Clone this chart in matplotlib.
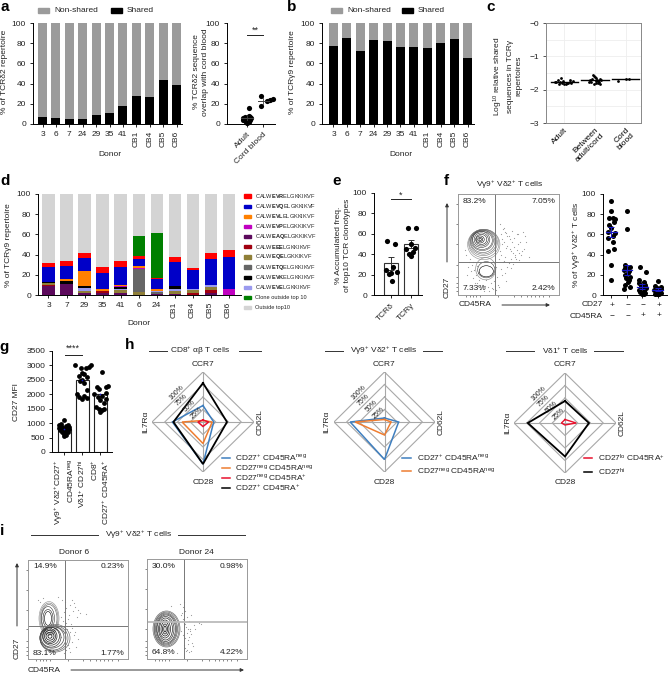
import numpy as np
import matplotlib
matplotlib.use('Agg')
import matplotlib.pyplot as plt
from matplotlib.patches import Ellipse, FancyArrowPatch

plt.rcParams['font.family'] = ['Liberation Sans', 'DejaVu Sans']
plt.rcParams['mathtext.fontset'] = 'custom'
plt.rcParams['mathtext.rm'] = 'Liberation Sans'
plt.rcParams['mathtext.it'] = 'Liberation Sans:italic'
plt.rcParams['mathtext.bf'] = 'Liberation Sans:bold'
plt.rcParams['mathtext.default'] = 'regular'
plt.rcParams['font.size'] = 6
plt.rcParams['axes.linewidth'] = 0.7
plt.rcParams['xtick.major.width'] = 0.7
plt.rcParams['ytick.major.width'] = 0.7
plt.rcParams['xtick.major.size'] = 2.5
plt.rcParams['ytick.major.size'] = 2.5
plt.rcParams['xtick.major.pad'] = 2.5
plt.rcParams['ytick.major.pad'] = 2.5

W, H = 668, 674
TXT = '#222222'
GREY = '#9b9b9b'

# panel a
donors_a = ['3', '6', '7', '24', '29', '35', '41', 'CB1', 'CB4', 'CB5', 'CB6']
shared_a = [7, 6, 4.5, 4.5, 8.5, 10.5, 18, 27.5, 27, 43.5, 39]
overlap_adult = [16, 8, 7, 6.5, 6, 5.5, 5, 4.5, 4, 3.5, 3, 2.5, 2, 1.5, 1]
overlap_adult_x = [0.12, 0.1, -0.12, 0.16, -0.22, 0.22, -0.05, 0.08, -0.25, 0.2, -0.08, 0.0, 0.12, -0.03, 0.03]
overlap_cord = [28, 18, 23, 24, 25]
overlap_cord_x = [-0.12, -0.12, 0.2, 0.42, 0.55]

# panel b
shared_b = [77, 85, 72, 83, 82, 76.5, 76, 75.5, 80, 84, 65]

# panel c
c_labels = ['Adult', 'Between\nadult/cord', 'Cord\nblood']
c_means = [-1.78, -1.72, -1.69]
c_adult = [-1.65, -1.72, -1.74, -1.76, -1.78, -1.8, -1.82, -1.84, -1.79, -1.77, -1.81, -1.83, -1.75, -1.72, -1.8, -1.78]
c_adult_x = [-0.12, -0.22, -0.05, -0.3, -0.15, -0.09, -0.01, 0.05, 0.12, 0.17, 0.22, -0.18, 0.28, 0.19, 0.08, -0.26]
c_between = [-1.55, -1.6, -1.62, -1.66, -1.68, -1.7, -1.72, -1.74, -1.76, -1.78, -1.8, -1.82, -1.84, -1.7, -1.67, -1.76, -1.8, -1.74]
c_between_x = [-0.08, -0.04, 0.0, 0.03, -0.1, 0.07, -0.15, 0.1, -0.2, 0.14, 0.04, -0.03, 0.16, 0.2, 0.16, -0.12, 0.09, 0.02]
c_cord = [-1.73, -1.67, -1.69]
c_cord_x = [-0.25, 0.12, 0.0]

# panel d
donors_d = ['3', '7', '29', '35', '41', '6', '24', 'CB1', 'CB4', 'CB5', 'CB6']
clone_colors = ['#5c0a5c', '#a00010', '#8f7f38', '#666666', '#9a9aee', '#000000', '#c000c0', '#ff8000', '#0000c8', '#ff0000', '#008000', '#d4d4d4']
eaq = [9, 10.5, 2, 1.5, 2, 0, 1, 1, 0, 2, 0]
eee = [1, 0, 0, 2, 0, 0, 0, 0, 1.5, 2.5, 0]
eqe = [2, 0.5, 2, 0, 3, 3, 0, 3, 3, 3, 0]
etq = [0, 0, 0, 0, 0, 23, 2, 0, 0, 0, 0]
eve = [0, 0, 3, 0, 1, 0, 1, 2, 1, 2, 0]
evk = [1, 3, 2, 0, 1.5, 0, 0, 3, 0, 0, 0]
evp = [0, 0, 0, 0, 1.5, 0.5, 0, 0, 0, 0, 6]
evl = [0, 1.5, 15, 2, 1, 2, 2, 0, 0, 0, 0]
evq = [15, 13, 13, 16.5, 17.5, 7, 9.5, 23.5, 19, 26, 31.5]
evr = [3.5, 5, 4.5, 6, 6, 3.5, 1.5, 5, 2.5, 6, 7.5]
clone_green = [0, 0, 0, 0, 0, 19, 44.5, 0, 0, 0, 0]
legend_d = ['CALW$\\mathbf{EVR}$ELGKKIKVF', 'CALW$\\mathbf{EVQ}$ELGKKIKVF', 'CALW$\\mathbf{EVL}$ELGKKIKVF',
            'CALW$\\mathbf{EVP}$ELGKKIKVF', 'CALW$\\mathbf{EAQ}$ELGKKIKVF', 'CALW$\\mathbf{EEE}$LGKKIKVF',
            'CALW$\\mathbf{EQE}$LGKKIKVF', 'CALW$\\mathbf{ETQ}$ELGKKIKVF', 'CALW$\\mathbf{EVK}$ELGKKIKVF',
            'CALW$\\mathbf{EVE}$LGKKIKVF', 'Clone outside top 10', 'Outside top10']
legend_d_colors = ['#ff0000', '#0000c8', '#ff8000', '#c000c0', '#5c0a5c', '#a00010', '#8f7f38', '#666666', '#000000', '#9a9aee', '#008000', '#d4d4d4']

# panel e
tcr_d = [53, 50, 27, 25, 23, 22, 21, 14]
tcr_d_x = [-0.2, 0.2, 0.1, -0.25, 0.28, 0.0, -0.1, 0.05]
tcr_g = [66, 66, 50, 46, 45, 42, 40, 38]
tcr_g_x = [-0.15, 0.25, 0.0, 0.2, -0.25, 0.1, -0.1, 0.0]
e_means = [31, 50]
e_err = [6, 4]

# panel f
f_q_text = ['83.2%', '7.05%', '7.33%', '2.42%']
f_c1 = [93, 83, 76, 76, 75, 72, 69, 66, 62, 61, 58, 56, 52, 46, 44, 30, 15]
f_c1_x = [0, 0, -0.15, 0.1, 0.2, 0.15, -0.15, 0.0, -0.25, 0.2, 0.1, -0.2, 0.12, 0.15, -0.2, -0.02, 0.0]
f_c2 = [83, 65, 30, 28, 27, 26, 25, 24, 22, 20, 18, 17, 15, 13, 10, 8, 6]
f_c2_x = [0, 0, -0.15, 0.2, -0.1, 0.1, -0.2, 0.15, 0.05, -0.15, 0.2, -0.05, 0.12, 0.05, -0.1, 0.2, -0.2]
f_c3 = [28, 23, 15, 13, 12, 10, 9, 8, 7, 5, 4, 3, 2, 1, 1]
f_c3_x = [-0.15, 0.25, -0.2, 0.1, -0.2, 0.2, -0.1, 0.05, 0.25, -0.2, 0.1, -0.15, 0.2, -0.05, 0.08]
f_c4 = [14, 9, 8, 7, 6, 5, 4, 3, 2, 1, 1, 0.5]
f_c4_x = [0, -0.2, 0.2, -0.05, 0.22, -0.22, 0.1, -0.1, 0.2, -0.2, 0.05, -0.05]
f_means = [62, 25, 8, 5]
f_err = [5, 5, 2.5, 1.5]
f_rows = [['+', '−', '−', '+'], ['−', '−', '+', '+']]

# flow contours, in percent of the plot width and height
f_ring_x = [25.5, 25.5, 25, 25, 24.5, 24, 24, 23, 23, 23, 22, 22, 22]
f_ring_y = [50, 51, 52, 52.5, 53, 54, 54, 55, 55, 55, 55, 55, 55]
f_ring_rx = [16, 15, 14, 13, 12, 11, 10, 8.5, 7, 5.5, 4, 2.5, 1.2]
f_ring_ry = [15, 14, 13, 12, 11, 10, 9, 8, 6.5, 5, 3.5, 2, 1]
f_low_x = [27.5, 28, 28]
f_low_y = [26, 25, 23.5]
f_low_rx = [10, 8.5, 7]
f_low_ry = [11, 8, 5.5]
f_dots_x = [42, 45, 47, 49, 51, 53, 55, 58, 60, 62, 44, 48, 52, 56, 41, 46, 50, 54, 57, 61, 65, 38, 43, 47, 52,
            14, 16, 18, 21, 24, 30, 33, 36, 39, 12, 17, 23, 28, 35, 40, 44, 48, 70, 66, 59,
            43, 44, 46, 46, 48, 49, 50, 51, 53, 54, 55, 56, 58, 59, 60, 63, 64, 67, 42, 43, 45, 47, 49, 52,
            10, 13, 15, 19, 20, 22, 26, 27, 31, 34, 37, 38, 41, 15, 19, 11, 9, 8, 7]
f_dots_y = [70, 65, 62, 58, 55, 52, 48, 45, 42, 40, 50, 47, 44, 40, 36, 34, 32, 31, 36, 52, 46, 28, 26, 22, 27,
            30, 25, 20, 15, 10, 8, 12, 14, 18, 36, 12, 6, 15, 6, 10, 20, 14, 38, 58, 60,
            60, 55, 66, 52, 61, 49, 58, 46, 63, 42, 56, 38, 60, 50, 35, 44, 62, 52, 44, 40, 33, 38, 28, 36,
            28, 24, 33, 29, 22, 6, 4, 9, 4, 7, 9, 5, 8, 17, 12, 33, 20, 40, 45]

i1_ring_x = [21, 21, 21, 20, 20, 20]
i1_ring_y = [41, 41, 41, 41, 41, 41]
i1_ring_rx = [10, 9, 8, 6.5, 5, 3.5]
i1_ring_ry = [17, 15.5, 14, 12, 9, 7]
i1_low_x = [27, 26, 25, 24, 23, 23, 22, 22, 22, 22]
i1_low_y = [21, 21, 21, 22, 22, 23, 23, 23, 23, 23]
i1_low_rx = [15, 14, 13, 12, 10, 8.5, 7, 5.5, 4, 2]
i1_low_ry = [14, 13, 12, 11, 10, 9, 7.5, 6, 4, 2]
i1_dots_x = [38, 42, 44, 46, 47, 50, 36, 41, 45, 52, 58, 49, 43, 39, 35, 33, 46, 50, 44, 40, 48, 38, 13, 17, 36, 42,
             34, 37, 40, 33, 35, 38, 44, 47, 12, 10, 15, 30, 41, 42]
i1_dots_y = [52, 55, 60, 57, 53, 50, 47, 44, 48, 46, 45, 42, 35, 30, 28, 22, 24, 20, 17, 14, 12, 9, 8, 5, 6, 27,
             60, 58, 40, 42, 38, 36, 31, 27, 58, 60, 62, 63, 11, 7]
i1_text = ['14.9%', '0.23%', '83.1%', '1.77%']

i2_ring_x = [19.5, 19.5, 19, 19, 19, 18.5, 18.5, 18, 18, 18, 18]
i2_ring_y = [30, 30, 30, 30, 30, 30, 30, 30, 30, 30, 30]
i2_ring_rx = [13.5, 12.5, 11.5, 10.5, 9.5, 8.5, 7, 5.5, 4, 2.5, 1.2]
i2_ring_ry = [18, 17, 16, 15, 14, 12.5, 11, 9, 7, 5, 3]
i2_dots_x = [36, 38, 40, 42, 37, 39, 41, 43, 44, 36, 38, 41, 45, 46, 38, 40, 42, 47, 52, 54, 35, 33, 37, 44, 30, 24,
             34, 36, 38, 40, 42, 34, 37, 41, 43, 39, 44, 48]
i2_dots_y = [52, 48, 42, 38, 36, 32, 30, 28, 25, 24, 21, 19, 16, 13, 11, 9, 7, 34, 36, 35, 46, 55, 57, 44, 6, 53,
             44, 40, 35, 26, 22, 28, 14, 15, 30, 8, 8, 30]
i2_text = ['30.0%', '0.98%', '64.8%', '4.22%']

# panel g
g_1 = [1100, 980, 950, 920, 900, 880, 860, 840, 820, 800, 780, 760, 740, 720, 700, 680, 650, 620, 580, 550]
g_1_x = [0, -0.2, 0.2, -0.3, 0.1, 0.28, -0.12, -0.28, 0.2, 0.0, 0.25, -0.22, 0.1, -0.1, 0.18, -0.15, 0.05, -0.05, 0.1, 0.0]
g_2 = [3000, 3000, 2950, 2900, 2900, 2750, 2700, 2650, 2600, 2500, 2450, 2400, 2150, 2000, 1950, 1900, 1880, 1850]
g_2_x = [-0.4, 0.48, 0.34, -0.1, 0.22, -0.05, 0.1, -0.2, 0.25, 0.0, -0.12, 0.1, 0.26, -0.3, 0.1, -0.2, 0.28, 0.0]
g_3 = [2780, 2300, 2250, 2250, 2200, 2050, 2000, 1950, 1900, 1850, 1800, 1700, 1550, 1500, 1480, 1450, 1400]
g_3_x = [0.1, 0.42, -0.2, 0.3, -0.1, 0.28, -0.35, 0.1, -0.15, 0.3, 0.0, 0.18, -0.25, 0.2, -0.1, 0.1, 0.0]
g_means = [790, 2480, 2000]
g_labels = ['Vγ9$^{+}$ Vδ2$^{+}$CD27$^{+}$\nCD45RA$^{neg}$', 'Vδ1$^{+}$ CD27$^{hi}$', 'CD8$^{+}$\nCD27$^{+}$ CD45RA$^{+}$']

# panel h, values run CCR7, CD62L, CD28, IL7Ra
h_axes = ['CCR7', 'CD62L', 'CD28', 'IL7Rα']
h1_blue = [33, 21, 84, 60]
h1_orange = [3, 18, 43, 41]
h1_red = [4, 11, 9, 10]
h1_black = [78, 47, 84, 58]
h2_blue = [8, 28, 75, 68]
h2_orange = [5, 13, 26, 58]
h3_red = [7, 22, 4, 7]
h3_black = [44, 47, 67, 73]
rings = [25, 50, 75, 100]
H_BLUE = '#3f7fbf'
H_ORANGE = '#ee7d31'
H_RED = '#e8112d'


def axpx(x0, y0, x1, y1):
    return fig.add_axes([x0 / W, 1 - y1 / H, (x1 - x0) / W, (y1 - y0) / H])


def txt(x, y, s, **kw):
    kw.setdefault('ha', 'center')
    kw.setdefault('va', 'center')
    kw.setdefault('color', TXT)
    return fig.text(x / W, 1 - y / H, s, **kw)


def line(x0, y0, x1, y1, color='#333333', lw=0.7):
    fig.add_artist(plt.Line2D([x0 / W, x1 / W], [1 - y0 / H, 1 - y1 / H], color=color, lw=lw))


def arrow(x0, y0, x1, y1):
    fig.add_artist(FancyArrowPatch((x0 / W, 1 - y0 / H), (x1 / W, 1 - y1 / H), transform=fig.transFigure,
                                   arrowstyle='-|>', mutation_scale=5, lw=0.7, color='#333333',
                                   shrinkA=0, shrinkB=0))


def clean(ax):
    ax.spines['top'].set_visible(False)
    ax.spines['right'].set_visible(False)
    ax.tick_params(colors=TXT)


def dots(ax, x0, xs, ys, s=14, color='black'):
    ax.scatter(x0 + np.array(xs), ys, s=s, color=color, linewidths=0, zorder=3, clip_on=False)


def swatches(items):
    for x, c, s in items:
        fig.add_artist(plt.Rectangle((x / W, 1 - 13 / H), 11 / W, 5 / H, color=c, transform=fig.transFigure))
        txt(x + 16, 10.5, s, ha='left')


def stacked_ab(ax, labels, shared, xlim):
    pos = np.arange(len(labels))
    rest = 100 - np.array(shared)
    ax.bar(pos, shared, 0.67, color='black')
    ax.bar(pos, rest, 0.67, bottom=shared, color=GREY)
    ax.set_xlim(*xlim)
    ax.set_ylim(0, 100)
    ax.set_yticks([0, 20, 40, 60, 80, 100])
    ax.set_xticks(pos)
    ax.set_xticklabels(labels)
    for t, lab in zip(ax.get_xticklabels(), labels):
        if lab.startswith('CB'):
            t.set_rotation(90)
    clean(ax)


def flow(ax, quad_x, quad_y, qtext, hcolor='#777777', hwidth=0.7):
    ax.set_xlim(0, 100)
    ax.set_ylim(0, 100)
    ax.axvline(quad_x, color='#777777', lw=0.7)
    ax.axhline(quad_y, color=hcolor, lw=hwidth)
    for sp in ax.spines.values():
        sp.set_color('#999999')
    ax.set_xticks([8, 12, 15, 18, 22, 40, 55, 62, 68, 72, 76, 80, 84, 90])
    ax.set_yticks([4, 8, 12, 18, 30, 50, 70, 90])
    ax.tick_params(length=1.2, width=0.5, color='#555555', labelleft=False, labelbottom=False)
    ax.text(5, 93, qtext[0], ha='left', va='center', color=TXT)
    ax.text(96, 93, qtext[1], ha='right', va='center', color=TXT)
    ax.text(5, 6, qtext[2], ha='left', va='center', color=TXT)
    ax.text(96, 6, qtext[3], ha='right', va='center', color=TXT)


def contours(ax, cx, cy, rx, ry, lw=0.4, start=0.55):
    n = len(cx)
    for i in range(n):
        shade = max(start - start * i / max(n - 1, 1), 0)
        ax.add_patch(Ellipse((cx[i], cy[i]), 2 * rx[i], 2 * ry[i], fill=False, ec=f'{shade:.3f}', lw=lw))


def radar(ax, cx, cy, series, colors, widths):
    # arms are 100 long so the values go straight in as percent
    ax.set_xlim(-100, 100)
    ax.set_ylim(-100, 100)
    ax.axis('off')
    for r in rings:
        ax.plot([0, r, 0, -r, 0], [r, 0, -r, 0, r], color='#a8a8a8', lw=0.8)
    ax.plot([0, 0], [-100, 100], color='#a8a8a8', lw=0.8)
    ax.plot([-100, 100], [0, 0], color='#a8a8a8', lw=0.8)
    for vals, c, w in zip(series, colors, widths):
        ax.plot([0, vals[1], 0, -vals[3], 0], [vals[0], 0, -vals[2], 0, vals[0]], color=c, lw=w,
                solid_joinstyle='miter')
    for r, (dx, dy) in zip(rings, [(-12, 18), (-26, 32), (-42, 44), (-52, 58)]):
        ax.text(dx, dy, f'{r}%', rotation=45, ha='center', va='center', fontsize=5, color=TXT)
    txt(cx, cy - 58, h_axes[0])
    txt(cx + 57, cy, h_axes[1], rotation=90)
    txt(cx, cy + 60, h_axes[2])
    txt(cx - 57, cy, h_axes[3], rotation=90)


fig = plt.figure(figsize=(W / 100, H / 100), dpi=100, facecolor='white')

# panel letters
for x, y, s in [(5, 7, 'a'), (292, 7, 'b'), (491, 7, 'c'), (5, 181, 'd'), (337, 181, 'e'),
                (446, 181, 'f'), (4, 347, 'g'), (130, 345, 'h'), (2, 531, 'i')]:
    txt(x, y, s, fontsize=11, fontweight='bold', color='black')

# a
ax = axpx(33, 23, 182, 124)
stacked_ab(ax, donors_a, shared_a, (-0.71, 10.41))
txt(110, 155, 'Donor')
txt(5, 72, '% of TCRδ2 repertoire', rotation=90)
swatches([(38, GREY, 'Non-shared'), (111, 'black', 'Shared')])

ax = axpx(227, 23, 275, 124)
ax.set_xlim(-1.2, 1.7)
ax.set_ylim(0, 100)
dots(ax, 0, overlap_adult_x, overlap_adult)
dots(ax, 1, overlap_cord_x, overlap_cord)
ax.plot([-0.35, 0.35], [5.5, 5.5], color='#444444', lw=0.7, zorder=4)
ax.plot([0.65, 1.35], [23, 23], color='#444444', lw=0.7, zorder=4)
ax.plot([0, 0], [3.5, 7.5], color='#444444', lw=0.6, zorder=4)
ax.plot([1, 1], [20, 26], color='#444444', lw=0.6, zorder=4)
ax.plot([0, 1], [88, 88], color='#222222', lw=0.7)
ax.text(0.5, 93, '**', ha='center', va='center', fontsize=6.5, color=TXT)
ax.set_yticks([0, 20, 40, 60, 80, 100])
ax.set_xticks([0, 1])
ax.set_xticklabels(['Adult', 'Cord blood'], rotation=45, ha='right', rotation_mode='anchor')
clean(ax)
txt(201, 72, '% TCRδ2 sequence\noverlap with cord blood', rotation=90, linespacing=1.25)

# b
ax = axpx(322, 23, 474, 124)
stacked_ab(ax, donors_a, shared_b, (-0.858, 10.485))
txt(401, 154, 'Donor')
txt(293, 72, '% of TCRγ9 repertoire', rotation=90)
swatches([(331, GREY, 'Non-shared'), (402, 'black', 'Shared')])

# c
ax = axpx(546, 23, 641, 123)
ax.set_xlim(-0.6, 2.5)
ax.set_ylim(-3, 0)
ax.set_yticks([-3, -2, -1, 0])
ax.set_yticklabels(['−3', '−2', '−1', '−0'])
ax.set_yticks([-2.5, -1.5, -0.5], minor=True)
ax.set_xticks([0, 1, 2])
ax.set_xticklabels(c_labels, rotation=45, ha='right', rotation_mode='anchor', linespacing=1.15)
ax.tick_params(which='minor', length=0)
ax.grid(True, which='both', color='#eeeeee', lw=0.6)
ax.set_axisbelow(True)
for sp in ax.spines.values():
    sp.set_color('#888888')
ax.tick_params(axis='x', length=0)
ax.tick_params(axis='y', colors=TXT, color='#555555')
for i, (m, ys, xs) in enumerate([(c_means[0], c_adult, c_adult_x), (c_means[1], c_between, c_between_x),
                                 (c_means[2], c_cord, c_cord_x)]):
    dots(ax, i, xs, ys, s=4)
    ax.plot([i - 0.45, i + 0.45], [m, m], color='black', lw=1.0, zorder=4)
txt(507, 76, 'Log$^{10}$ relative shared\nsequences in TCRγ\nrepertoires', rotation=90, linespacing=1.25)

# d
ax = axpx(38, 194, 241, 295)
pos = np.arange(len(donors_d))
stack = [eaq, eee, eqe, etq, eve, evk, evp, evl, evq, evr, clone_green]
bottom = np.zeros(len(donors_d))
for vals, c in zip(stack, clone_colors):
    ax.bar(pos, vals, 0.67, bottom=bottom, color=c)
    bottom = bottom + np.array(vals)
ax.bar(pos, 100 - bottom, 0.67, bottom=bottom, color=clone_colors[-1])
ax.set_xlim(-0.583, 10.69)
ax.set_ylim(0, 100)
ax.set_yticks([0, 20, 40, 60, 80, 100])
ax.set_xticks(pos)
ax.set_xticklabels(donors_d)
for t, lab in zip(ax.get_xticklabels(), donors_d):
    if lab.startswith('CB'):
        t.set_rotation(90)
clean(ax)
txt(139, 323, 'Donor')
txt(9, 245, '% of TCRγ9 repertoire', rotation=90)
for i, (lab, c) in enumerate(zip(legend_d, legend_d_colors)):
    y = 196 + i * 10.15
    fig.add_artist(plt.Rectangle((244 / W, 1 - (y + 1.6) / H), 7 / W, 3.2 / H, color=c, transform=fig.transFigure))
    txt(255, y, lab, ha='left', fontsize=4.1)

# e
ax = axpx(374, 193, 422, 295)
ax.bar([0, 1], e_means, 0.7, color='white', edgecolor='#333333', lw=0.8)
ax.errorbar([0, 1], e_means, yerr=e_err, color='#333333', lw=0.7, capsize=2, capthick=0.7, ls='none')
dots(ax, 0, tcr_d_x, tcr_d)
dots(ax, 1, tcr_g_x, tcr_g)
ax.set_xlim(-0.85, 1.55)
ax.set_ylim(0, 100)
ax.set_yticks([0, 20, 40, 60, 80, 100])
ax.set_xticks([0, 1])
ax.set_xticklabels(['TCRδ', 'TCRγ'], rotation=45, ha='right', rotation_mode='anchor')
ax.plot([0, 1], [94, 94], color='#222222', lw=0.7)
ax.text(0.5, 98, '*', ha='center', va='center', fontsize=6.5, color=TXT)
clean(ax)
txt(343, 245, '% Accumulated freq.\nof top10 TCR clonotypes', rotation=90, linespacing=1.25)

# f
ax = axpx(458, 194, 559, 295)
flow(ax, 37, 33, f_q_text)
ax.scatter(f_dots_x, f_dots_y, s=0.7, color='#999999', linewidths=0)
contours(ax, f_low_x, f_low_y, f_low_rx, f_low_ry, start=0.5)
contours(ax, f_ring_x, f_ring_y, f_ring_rx, f_ring_ry)
txt(510, 185, 'Vγ9$^{+}$ Vδ2$^{+}$ T cells')
txt(447, 287, 'CD27', rotation=90)
txt(459, 305, 'CD45RA', ha='left')
arrow(447, 262, 447, 203)
arrow(502, 305, 550, 305)

ax = axpx(603, 194, 667, 295)
ax.set_xlim(-0.55, 3.6)
ax.set_ylim(0, 100)
for i, (ys, xs) in enumerate([(f_c1, f_c1_x), (f_c2, f_c2_x), (f_c3, f_c3_x), (f_c4, f_c4_x)]):
    dots(ax, i, xs, ys, s=13)
    ax.plot([i - 0.35, i + 0.35], [f_means[i]] * 2, color='#1a1ac8', lw=0.9, zorder=4)
    ax.errorbar([i], [f_means[i]], yerr=[f_err[i]], color='#1a1ac8', lw=0.7, capsize=2, capthick=0.7, zorder=4)
ax.set_yticks([0, 20, 40, 60, 80, 100])
ax.set_xticks([0, 1, 2, 3])
ax.set_xticklabels([])
clean(ax)
txt(577, 245, '% of Vγ9$^{+}$ Vδ2$^{+}$ T cells', rotation=90)
txt(603, 305, 'CD27', ha='right')
txt(603, 316, 'CD45RA', ha='right')
for row, y in zip(f_rows, [305, 316]):
    for x, s in zip([612, 628, 643, 659], row):
        txt(x, y, s)

# g
ax = axpx(52, 351, 112, 452)
ax.bar([0, 1, 2], g_means, 0.72, color='white', edgecolor='#222222', lw=0.8)
dots(ax, 0, g_1_x, g_1, s=12)
dots(ax, 1, g_2_x, g_2, s=12)
dots(ax, 2, g_3_x, g_3, s=12)
ax.scatter([0, 1, 2], g_means, s=1.5, color='#1a1ac8', zorder=5, linewidths=0)
ax.set_xlim(-0.69, 2.64)
ax.set_ylim(0, 3500)
ax.set_yticks(np.arange(0, 3501, 500))
ax.set_xticks([0, 1, 2])
ax.set_xticklabels(g_labels, rotation=90, linespacing=1.15, multialignment='right')
ax.plot([0.05, 0.95], [3350, 3350], color='#222222', lw=0.7, clip_on=False)
clean(ax)
txt(73, 348, '****', fontsize=6.5)
txt(16, 402, 'CD27 MFI', rotation=90)


# h
def title_bar(cx, y, s, x0, x1, x2, x3):
    txt(cx, y, s)
    line(x0, y, x1, y)
    line(x2, y, x3, y)


ax = axpx(152, 372, 254, 472)
radar(ax, 203, 422, [h1_blue, h1_orange, h1_red, h1_black], [H_BLUE, H_ORANGE, H_RED, 'black'], [1.1, 1.1, 1.1, 1.3])
title_bar(200, 351, 'CD8$^{+}$ αβ T cells', 149, 167, 239, 261)
leg = [('CD27$^{+}$ CD45RA$^{neg}$', H_BLUE), ('CD27$^{neg}$ CD45RA$^{neg}$', H_ORANGE),
       ('CD27$^{neg}$ CD45RA$^{+}$', H_RED), ('CD27$^{+}$ CD45RA$^{+}$', 'black')]
for (s, c), y in zip(leg, [458, 468, 478, 488]):
    line(222, y, 230, y, color=c, lw=1.1)
    txt(235, y, s, ha='left')

ax = axpx(334, 372, 435, 472)
radar(ax, 384, 422, [h2_blue, h2_orange], [H_BLUE, H_ORANGE], [1.1, 1.1])
title_bar(384, 351, 'Vγ9$^{+}$ Vδ2$^{+}$ T cells', 325, 343, 423, 442)
leg = [('CD27$^{+}$ CD45RA$^{neg}$', H_BLUE), ('CD27$^{neg}$ CD45RA$^{neg}$', H_ORANGE)]
for (s, c), y in zip(leg, [458, 471]):
    line(402, y, 411, y, color=c, lw=1.1)
    txt(417, y, s, ha='left')

ax = axpx(514, 373, 616, 473)
radar(ax, 565, 423, [h3_red, h3_black], [H_RED, 'black'], [1.0, 1.3])
title_bar(565, 351, 'Vδ1$^{+}$ T cells', 506, 534, 594, 623)
leg = [('CD27$^{lo}$ CD45RA$^{+}$', H_RED), ('CD27$^{hi}$', 'black')]
for (s, c), y in zip(leg, [458, 472]):
    line(584, y, 592, y, color=c, lw=1.1)
    txt(598, y, s, ha='left')

# i
ax = axpx(28, 560, 128, 659)
flow(ax, 36.5, 33, i1_text)
ax.scatter(i1_dots_x, i1_dots_y, s=0.7, color='#999999', linewidths=0)
contours(ax, i1_ring_x, i1_ring_y, i1_ring_rx, i1_ring_ry)
contours(ax, i1_low_x, i1_low_y, i1_low_rx, i1_low_ry, lw=0.5, start=0.45)

ax = axpx(147, 559, 247, 659)
flow(ax, 36.5, 37, i2_text, hcolor='#bbbbbb', hwidth=1.3)
ax.scatter(i2_dots_x, i2_dots_y, s=0.7, color='#999999', linewidths=0)
contours(ax, i2_ring_x, i2_ring_y, i2_ring_rx, i2_ring_ry, lw=0.5, start=0.45)

txt(74, 552, 'Donor 6')
txt(196, 552, 'Donor 24')
title_bar(139, 535, 'Vγ9$^{+}$ Vδ2$^{+}$ T cells', 31, 98, 178, 245)
txt(17, 648, 'CD27', rotation=90)
txt(28, 670, 'CD45RA', ha='left')
arrow(17, 626, 17, 563)
arrow(71, 670, 244, 670)

fig.savefig('out.png', dpi=100)
